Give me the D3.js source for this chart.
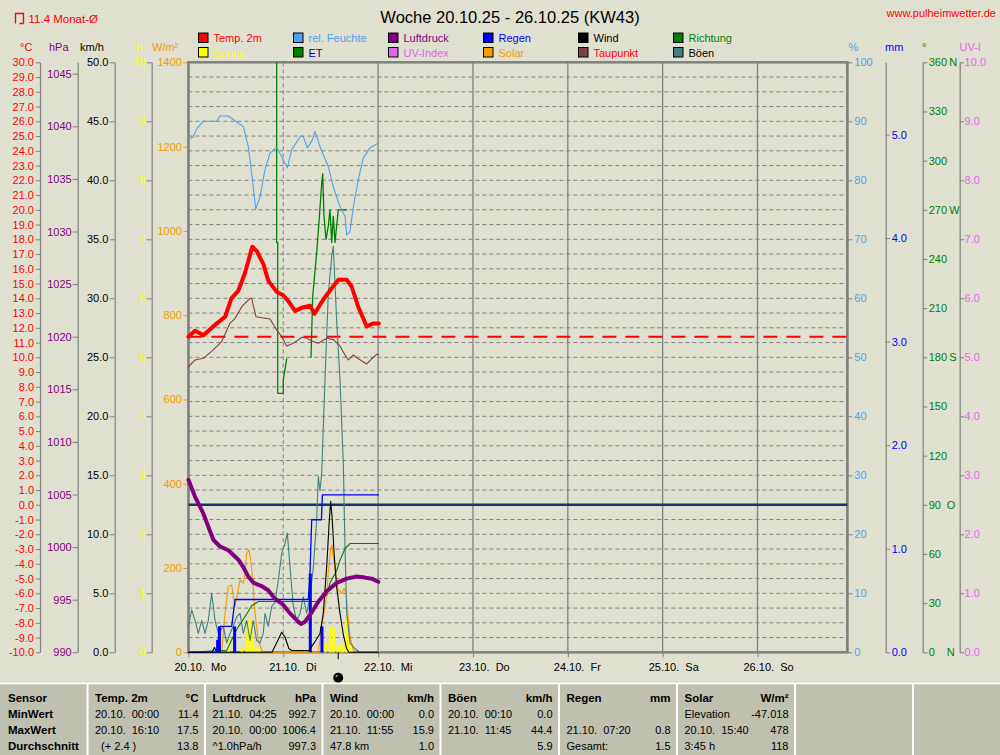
<!DOCTYPE html>
<html><head><meta charset="utf-8">
<script src="https://cdn.jsdelivr.net/npm/d3@7"></script>
<style>
body{margin:0;background:#e0e0d0;}
svg{display:block;font-family:"Liberation Sans",Arial,sans-serif;}
text{white-space:pre;}
</style></head><body>
<svg id="c" width="1000" height="755"></svg>
<script>
// ---------- DATA (hours since 20.10. 00:00) ----------
const title = "Woche 20.10.25 - 26.10.25 (KW43)";
const siteName = "www.pulheimwetter.de";
const monthAvgLabel = "11.4 Monat-Ø";
const monthAvgTemp = 11.4;
const dayLabels = ["20.10.  Mo","21.10.  Di","22.10.  Mi","23.10.  Do","24.10.  Fr","25.10.  Sa","26.10.  So"];
const nowHour = 37.9;

const tempHours = [0,1.7,3.8,7.2,9.3,10.9,12.6,14.3,16.17,17.3,19.0,20.2,22.3,24.0,25.3,27.0,29.1,30.8,31.9,34.1,36.3,37.9,40.1,41.3,43.0,45.1,46.8,48.2];
const tempValues = [11.4,11.8,11.5,12.3,12.75,14.0,14.5,15.7,17.5,17.2,16.3,15.2,14.45,14.2,13.8,13.15,13.4,13.5,12.95,13.9,14.7,15.25,15.25,14.8,13.4,12.1,12.3,12.3];

const dewHours = [0,1.7,3.8,6.3,8.4,10.5,11.8,13.5,15.6,16.0,17.1,20.65,22.34,23.61,24.87,26.14,27.4,28.67,29.93,31.2,32.87,34.99,36.66,38.36,39.62,40.46,41.73,42.99,45.12,46.38,47.65,48.05];
const dewValues = [9.36,9.82,9.93,10.5,11.06,12.3,12.64,13.43,14.0,14.0,12.75,12.6,11.85,11.4,10.77,10.9,11.1,11.36,11.3,11.1,10.95,11.29,11.2,10.77,10.16,9.82,10.16,9.9,9.55,9.9,10.2,10.2];

const humHours = [0,1.16,2.18,3.77,7.16,8.0,10.1,11.79,13.89,15.16,16.02,17.03,18.12,19.38,20.65,22.34,23.61,25.03,26.14,28.39,29.08,30.09,31.2,32.04,33.3,35.4,36.66,38.36,39.62,40.05,40.89,41.73,42.99,44.26,45.95,48.05];
const humValues = [87.0,87.3,88.8,90.0,90.0,90.9,90.9,90.1,89.1,85.7,81.2,75.1,77.2,81.8,84.6,85.6,84.0,82.1,85.2,87.5,87.4,85.5,86.6,88.3,85.7,82.3,78.9,75.5,73.9,70.75,71.3,75.5,80.1,83.8,85.5,86.3];

const pressHours = [0,1.67,3.77,6.3,8.0,10.1,12.63,13.9,15.16,16.5,18.5,20.2,21.91,24.01,25.71,27.81,28.5,29.5,30.77,32.87,34.99,37.53,40.06,42.59,44.69,46.38,48.05];
const pressValues = [1006.4,1004.8,1003.2,1000.7,1000.06,999.7,998.8,998.1,997.2,996.6,996.3,995.9,995.1,994.5,993.7,992.9,992.7,992.9,993.55,994.8,995.8,996.6,997.0,997.2,997.1,997.0,996.7];

const windHours = [0,5.97,6.6,7.24,21.15,22.34,23.61,24.44,25.45,26.2,30.5,32.04,33.3,34.13,35.0,35.65,36.0,36.41,36.84,37.53,38.36,39.2,40.06,40.64,48.05];
const windValues = [0,0,0.4,0,0,0.8,1.7,1.3,0.3,0.15,0.15,0.9,1.6,3.3,7.3,11.2,12.8,11.2,8.5,5.5,3.3,1.5,0.3,0,0];

const gustHours = [0,0.84,1.67,2.5,3.37,4.2,5.04,5.9,6.73,7.57,8.83,9.69,10.53,11.36,12.22,13.06,13.89,14.75,15.59,16.42,17.28,18.12,18.95,19.38,20.22,21.08,21.91,22.75,23.61,24.44,25.03,25.71,26.54,27.4,28.24,29.07,29.93,30.77,31.6,32.46,32.87,33.3,33.73,34.56,35.4,36.26,36.66,37.53,38.36,39.2,39.62,40.06,40.89,42.15,43.42,48.05];
const gustValues = [2.2,3.6,2.7,1.6,2.7,1.6,2.7,5.0,2.7,1.6,2.2,0.8,1.6,2.2,3.0,3.3,1.6,2.7,1.0,2.7,1.0,0.8,1.6,3.3,2.2,3.9,4.2,6.1,8.4,9.2,10.1,7.2,3.9,2.7,3.3,4.7,3.3,4.7,7.2,11.2,14.9,13.7,15.2,23.1,30.4,33.5,34.4,28.0,23.1,16.0,8.9,3.3,0.8,0.3,0,0];

const dirHours1 = [22.34,22.34,22.6,22.6,24.0,24.0,24.87];
const dirValues1 = [360,250,250,158,158,166,179];
const dirHours2 = [31.02,31.45,32.46,33.12,33.73,33.98,34.31,34.82,35.4,35.83,36.26,36.66,37.09,37.93,40.06];
const dirValues2 = [180,217,244,265,286,292,266,252,260,270,250,266,250,270,270];

const etHours = [0,9.69,12.22,14.75,16.02,17.69,32.46,34.99,35.83,37.53,38.36,39.62,40.89,48.05];
const etValues = [0,0.02,0.22,0.37,0.45,0.49,0.49,0.55,0.67,0.79,0.89,1.0,1.05,1.05];

const rainSumHours = [0,7.16,8.0,10.96,11.79,30.34,30.77,31.2,33.65,33.9,48.05];
const rainSumValues = [0,0,0.25,0.25,0.51,0.51,0.77,1.28,1.28,1.52,1.52];

const rainBarHours = [7.4,7.85,11.7,30.85,33.8];
const rainBarValues = [0.12,0.25,0.25,0.76,0.25];

const solarHours = [0,8.43,9.26,10.1,10.96,11.36,11.79,12.22,13.06,13.89,14.32,14.75,15.33,15.76,16.27,16.85,17.69,18.55,18.95,32.87,33.73,34.99,35.4,36.0,36.34,36.66,37.34,37.93,38.79,39.4,39.9,40.89,41.73,42.15,48.05];
const solarValues = [0,0,92,156,160,132,108,128,172,164,188,235,243,219,172,93,29,5,0,0,61,132,190,245,255,225,180,148,140,152,140,37,5,0,0];

const sunHours = [10.2,13.5,14.75,15.5,16.25,17.1,17.9,34.75,35.85,36.7,37.8,38.6,39.05,39.9,40.65,41.3];
const sunValues = [0.2,0.08,0.4,0.57,0.31,0.08,0.06,0.17,0.43,0.43,0.1,0.1,0.14,0.56,0.26,0.08];

const legendNames = ["Temp. 2m","rel. Feuchte","Luftdruck","Regen","Wind","Richtung","Sonne","ET","UV-Index","Solar","Taupunkt","Böen"];
const legendColors = ["#ff0000","#50a0f0","#800080","#0000ff","#000000","#008000","#ffff00","#008000","#e066ee","#f59a00","#804040","#408080"];
const legendTextColors = ["#ff0000","#50a0f0","#800080","#0000ff","#000000","#008000","#ffff00","#0000a0","#e066ee","#f59a00","#ff0000","#000000"];

const tempTicks = d3.range(-10,31,1);
const pressTicks = d3.range(990,1046,5);
const windTicks = d3.range(0,51,5);
const sunTicks = d3.range(0,11,1);
const solarTicks = d3.range(0,1401,200);
const humTicks = d3.range(0,101,10);
const mmTicks = d3.range(0,6,1);
const dirTicks = d3.range(0,361,30);
const dirLetters = {0:"N",90:"O",180:"S",270:"W",360:"N"};
const uvTicks = d3.range(0,11,1);

const tableHeaders = [["Temp. 2m","°C"],["Luftdruck","hPa"],["Wind","km/h"],["Böen","km/h"],["Regen","mm"],["Solar","W/m²"]];
const rowLabels = ["Sensor","MinWert","MaxWert","Durchschnitt"];
const minRow = [["20.10.  00:00","11.4"],["21.10.  04:25","992.7"],["20.10.  00:00","0.0"],["20.10.  00:10","0.0"],["",""],["Elevation","-47.018"]];
const maxRow = [["20.10.  16:10","17.5"],["20.10.  00:00","1006.4"],["21.10.  11:55","15.9"],["21.10.  11:45","44.4"],["21.10.  07:20","0.8"],["20.10.  15:40","478"]];
const avgRow = [["  (+ 2.4 )","13.8"],["^1.0hPa/h","997.3"],["47.8 km","1.0"],["","5.9"],["Gesamt:","1.5"],["3:45 h","118"]];

// ---------- LAYOUT ----------
const L=188.4, R=847.3, T=62.3, B=652.3;
const svg = d3.select("#c");
const x = d3.scaleLinear().domain([0,168]).range([L, L+7*94.85]);
const yT = d3.scaleLinear().domain([-10,30]).range([B,T]);
const yP = d3.scaleLinear().domain([990, 990+(B-T)/10.52]).range([B,T]);
const yW = d3.scaleLinear().domain([0,50]).range([B,T]);
const yH = d3.scaleLinear().domain([0,10]).range([B,T]);
const yS = d3.scaleLinear().domain([0,1400]).range([B,T]);
const yRH = d3.scaleLinear().domain([0,100]).range([B,T]);
const yMM = d3.scaleLinear().domain([0,(B-T)/103.55]).range([B,T]);
const yD = d3.scaleLinear().domain([0,360]).range([B,T]);
const yUV = d3.scaleLinear().domain([0,10]).range([B,T]);

svg.append("rect").attr("width",1000).attr("height",755).attr("fill","#e0e0d0");

// header texts
svg.append("text").attr("x",510).attr("y",23).attr("text-anchor","middle").attr("font-size",16.5).attr("fill","#000").text(title);
svg.append("text").attr("x",996).attr("y",17).attr("text-anchor","end").attr("font-size",11).attr("fill","#ff0000").text(siteName);
svg.append("path").attr("d","M15.5,23.5V13.5H23.5V23.5M19.5,23.5H23.5").attr("fill","none").attr("stroke","#ff0000").attr("stroke-width",1.3);
svg.append("text").attr("x",28.5).attr("y",23).attr("font-size",11.5).attr("fill","#ff0000").text(monthAvgLabel);

// legend
legendNames.forEach((n,i)=>{
  const col=i%6, row=Math.floor(i/6);
  const lx=198.5+col*95, ly=row?47.5:33;
  svg.append("rect").attr("x",lx).attr("y",ly).attr("width",9.5).attr("height",9.5).attr("fill",legendColors[i]).attr("stroke","#000").attr("stroke-width",1);
  svg.append("text").attr("x",lx+15).attr("y",ly+9).attr("font-size",11).attr("fill",legendTextColors[i]).text(n);
});

// unit headers
const units = [["°C",20,"#ff0000"],["hPa",49,"#800080"],["km/h",80,"#000"],["h",136,"#ffff00"],["W/m²",152,"#f59a00"],["%",848.5,"#50a0f0"],["mm",885,"#0000ff"],["°",922,"#008000"],["UV-I",959.5,"#e066ee"]];
units.forEach(u=>svg.append("text").attr("x",u[1]).attr("y",51).attr("font-size",11).attr("fill",u[2]).text(u[0]));

// axes
function styleAxis(g, color, tickColor){
  g.attr("font-family",null).attr("font-size",11);
  g.selectAll("path.domain").attr("stroke","#808080").attr("stroke-width",1.2);
  g.selectAll(".tick line").attr("stroke",tickColor||"#808080");
  g.selectAll(".tick text").attr("fill",color);
}
let g;
g = svg.append("g").attr("transform","translate(40,0)").call(d3.axisLeft(yT).tickValues(tempTicks).tickFormat(d=>d.toFixed(1)).tickSize(4).tickSizeOuter(0).tickPadding(2));
styleAxis(g,"#ff0000");
g = svg.append("g").attr("transform","translate(77.7,0)").call(d3.axisLeft(yP).tickValues(pressTicks).tickFormat(d=>String(d)).tickSize(5).tickSizeOuter(0).tickPadding(1));
styleAxis(g,"#800080");
g = svg.append("g").attr("transform","translate(114.7,0)").call(d3.axisLeft(yW).tickValues(windTicks).tickFormat(d=>d.toFixed(1)).tickSize(5).tickSizeOuter(0).tickPadding(1.3));
styleAxis(g,"#000");
g = svg.append("g").attr("transform","translate(151.7,0)").call(d3.axisLeft(yH).tickValues(sunTicks).tickFormat(d=>String(d)).tickSize(5).tickSizeOuter(0).tickPadding(1));
styleAxis(g,"#ffff00");
g = svg.append("g").attr("transform",`translate(${L},0)`).call(d3.axisLeft(yS).tickValues(solarTicks).tickFormat(d=>String(d)).tickSize(5).tickSizeOuter(0).tickPadding(1.5));
styleAxis(g,"#f59a00","#f59a00");
g = svg.append("g").attr("transform",`translate(${R},0)`).call(d3.axisRight(yRH).tickValues(humTicks).tickFormat(d=>String(d)).tickSize(5).tickSizeOuter(0).tickPadding(2));
styleAxis(g,"#50a0f0");
g = svg.append("g").attr("transform","translate(885.7,0)").call(d3.axisRight(yMM).tickValues(mmTicks).tickFormat(d=>d.toFixed(1)).tickSize(4.3).tickSizeOuter(0).tickPadding(1.7));
styleAxis(g,"#0000ff");
g = svg.append("g").attr("transform","translate(922.7,0)").call(d3.axisRight(yD).tickValues(dirTicks).tickFormat(d=>String(d)).tickSize(4.6).tickSizeOuter(0).tickPadding(1.4));
styleAxis(g,"#008000");
g.selectAll(".tick text").each(function(d){
  if(dirLetters[d]!==undefined){
    d3.select(this).append("tspan").attr("x", (d===0||d===90)?24:26.5).text(dirLetters[d]);
  }
});
g = svg.append("g").attr("transform","translate(959.7,0)").call(d3.axisRight(yUV).tickValues(uvTicks).tickFormat(d=>d.toFixed(1)).tickSize(4.3).tickSizeOuter(0).tickPadding(0.6));
styleAxis(g,"#e066ee");

// grid
const plot = svg.append("g");
plot.selectAll("line.hg").data(d3.range(-9,30)).join("line").attr("class","hg")
  .attr("x1",L).attr("x2",R).attr("y1",d=>yT(d)).attr("y2",d=>yT(d))
  .attr("stroke","#808080").attr("stroke-dasharray","4,3").attr("stroke-width",1);
plot.selectAll("line.vg").data(d3.range(1,7)).join("line").attr("class","vg")
  .attr("x1",d=>x(d*24)).attr("x2",d=>x(d*24)).attr("y1",T).attr("y2",B)
  .attr("stroke","#808080").attr("stroke-width",d=>d===1?1:1.3).attr("stroke-dasharray",d=>d===1?"4,3":null);

// bottom axis
g = svg.append("g").attr("transform",`translate(0,${B})`).call(d3.axisBottom(x).tickValues(d3.range(0,168,24)).tickFormat((d,i)=>dayLabels[i]).tickSize(5).tickSizeOuter(0).tickPadding(5.5));
g.attr("font-family",null).attr("font-size",11);
g.select("path.domain").remove();
g.selectAll(".tick line").attr("stroke","#808080");
g.selectAll(".tick text").attr("text-anchor","start").attr("x",-14.5).attr("fill","#000");

// border
svg.append("rect").attr("x",L).attr("y",T).attr("width",R-L).attr("height",B-T).attr("fill","none").attr("stroke","#808080").attr("stroke-width",2.5);

// reference lines
svg.append("line").attr("x1",L).attr("x2",R).attr("y1",yT(0)).attr("y2",yT(0)).attr("stroke","#0a3a70").attr("stroke-width",2.5);
svg.append("line").attr("x1",L).attr("x2",R).attr("y1",yT(monthAvgTemp)).attr("y2",yT(monthAvgTemp)).attr("stroke","#ff0000").attr("stroke-width",2).attr("stroke-dasharray","14,9");

// data
const data = svg.append("g");
function bars(hours, values, ys, color, w){
  data.append("g").selectAll("rect").data(hours.map((h,i)=>[h,values[i]])).join("rect")
    .attr("x",d=>x(d[0])-w/2).attr("width",w).attr("y",d=>ys(d[1])).attr("height",d=>B-ys(d[1])).attr("fill",color);
}
function line(hours, values, ys, color, w){
  data.append("path").datum(hours.map((h,i)=>[h,values[i]]))
    .attr("d",d3.line().x(d=>x(d[0])).y(d=>ys(d[1])))
    .attr("fill","none").attr("stroke",color).attr("stroke-width",w).attr("stroke-linejoin","round").attr("stroke-linecap","round");
}
bars(sunHours, sunValues, yH, "#ffff00", 2.6);
line(solarHours, solarValues, yS, "#f59a00", 1.1);
line(gustHours, gustValues, yW, "#408080", 1.1);
line(etHours, etValues, yMM, "#008000", 1.1);
line(dirHours1, dirValues1, yD, "#008000", 1.3);
line(dirHours2, dirValues2, yD, "#008000", 1.3);
line(rainSumHours, rainSumValues, yMM, "#0000ff", 1.3);
bars(rainBarHours, rainBarValues, yMM, "#0000ff", 3);
line(windHours, windValues, yW, "#000000", 1.1);
line(humHours, humValues, yRH, "#50a0f0", 1.1);
line(dewHours, dewValues, yT, "#804040", 1.1);
line(pressHours, pressValues, yP, "#800080", 4);
line(tempHours, tempValues, yT, "#ff0000", 4);

// now marker
svg.append("line").attr("x1",x(nowHour)).attr("x2",x(nowHour)).attr("y1",B).attr("y2",B+7).attr("stroke","#000");
svg.append("circle").attr("cx",x(nowHour)).attr("cy",677.7).attr("r",5).attr("fill","#000");
svg.append("circle").attr("cx",x(nowHour)-1.5).attr("cy",676).attr("r",1.2).attr("fill","#888");

// table
const tb = svg.append("g");
tb.append("rect").attr("x",0).attr("y",683).attr("width",1000).attr("height",72).attr("fill","#c0c0b0");
tb.append("line").attr("x1",0).attr("x2",1000).attr("y1",683.5).attr("y2",683.5).attr("stroke","#fff").attr("stroke-width",1.5);
const colB = [87.5,205,322.5,440.5,559,677,795,913];
colB.forEach(b=>tb.append("line").attr("x1",b).attr("x2",b).attr("y1",683).attr("y2",755).attr("stroke","#fff").attr("stroke-width",2));
const rowY = [701.5,717.5,733.5,749.5];
rowLabels.forEach((r,i)=>tb.append("text").attr("x",8).attr("y",rowY[i]).attr("font-size",11.5).attr("font-weight","bold").attr("fill","#000").text(r));
tableHeaders.forEach((h,c)=>{
  const x0=colB[c]+7.5, x1=colB[c+1]-6.5;
  tb.append("text").attr("x",x0).attr("y",rowY[0]).attr("font-size",11.5).attr("font-weight","bold").text(h[0]);
  tb.append("text").attr("x",x1).attr("y",rowY[0]).attr("text-anchor","end").attr("font-size",11.5).attr("font-weight","bold").text(h[1]);
  [minRow,maxRow,avgRow].forEach((row,ri)=>{
    tb.append("text").attr("x",x0).attr("y",rowY[ri+1]).attr("font-size",11).text(row[c][0]);
    tb.append("text").attr("x",x1).attr("y",rowY[ri+1]).attr("text-anchor","end").attr("font-size",11).text(row[c][1]);
  });
});
</script></body></html>
